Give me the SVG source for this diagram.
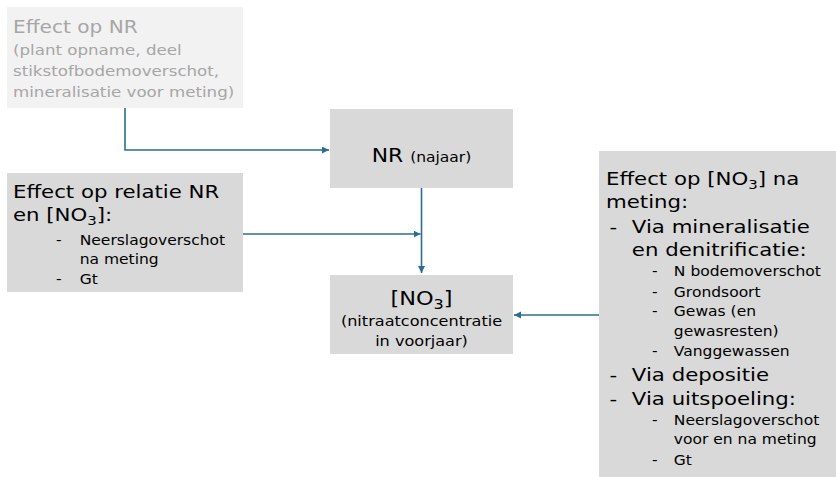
<svg xmlns="http://www.w3.org/2000/svg" width="836" height="477" viewBox="0 0 836 477">
<style>
text{font-family:"DejaVu Sans","Verdana",sans-serif;fill:#000}
.box{fill:#d9d9d9}
.light{fill:#f2f2f2}
.gray{fill:#a6a6a6}
.t{font-size:18.5px}
.s{font-size:13.5px}
.c{text-anchor:middle}
.conn{fill:none;stroke:#2c6e91;stroke-width:1.6}
</style>
<defs>
<marker id="ah" markerUnits="userSpaceOnUse" markerWidth="8" markerHeight="8" refX="7" refY="3.5" orient="auto">
<path d="M0,0 L7,3.5 L0,7 z" fill="#2c6e91"/>
</marker>
</defs>

<g id="effect-nr">
<rect class="light" x="7" y="7" width="236" height="101"/>
<g transform="translate(13,0) scale(1.15,1)">
<text class="gray" x="0" y="33" font-size="17.5">Effect op NR</text>
<text class="gray" x="0" y="55" font-size="14.5">(plant opname, deel</text>
<text class="gray" x="0" y="76" font-size="14.5">stikstofbodemoverschot,</text>
<text class="gray" x="0" y="97" font-size="14.5">mineralisatie voor meting)</text>
</g>
</g>

<g id="effect-relatie">
<rect class="box" x="7" y="173" width="236" height="119"/>
<g transform="translate(13,0) scale(1.15,1)">
<text class="t" x="0" y="198">Effect op relatie NR</text>
<text class="t" x="0" y="221">en [NO<tspan font-size="13" dy="4">3</tspan><tspan dy="-4">]:</tspan></text>
<text class="s" x="37.5" y="245">-</text>
<text class="s" x="58" y="245">Neerslagoverschot</text>
<text class="s" x="58" y="264">na meting</text>
<text class="s" x="37.5" y="284">-</text>
<text class="s" x="58" y="284">Gt</text>
</g>
</g>

<g id="nr">
<rect class="box" x="330" y="109" width="183" height="79"/>
<g transform="translate(421.5,0) scale(1.15,1)">
<text class="c" x="0" y="162"><tspan font-size="19">NR </tspan><tspan font-size="13.5">(najaar)</tspan></text>
</g>
</g>

<g id="no3">
<rect class="box" x="330" y="275" width="183" height="79"/>
<g transform="translate(421.5,0) scale(1.15,1)">
<text class="c" x="0" y="305" font-size="19.5">[NO<tspan font-size="14" dy="4">3</tspan><tspan dy="-4">]</tspan></text>
<text class="c" x="0" y="326" font-size="14">(nitraatconcentratie</text>
<text class="c" x="0" y="346" font-size="14">in voorjaar)</text>
</g>
</g>

<g id="effect-no3">
<rect class="box" x="599" y="151" width="237" height="326"/>
<g transform="translate(606,0) scale(1.15,1)">
<text class="t" x="0" y="185">Effect op [NO<tspan font-size="13" dy="4">3</tspan><tspan dy="-4">] na</tspan></text>
<text class="t" x="0" y="208">meting:</text>
<text class="t" x="3" y="233">-</text>
<text class="t" x="22.5" y="233">Via mineralisatie</text>
<text class="t" x="22.5" y="256">en denitrificatie:</text>
<text class="s" x="40" y="276">-</text>
<text class="s" x="59" y="276">N bodemoverschot</text>
<text class="s" x="40" y="297">-</text>
<text class="s" x="59" y="297">Grondsoort</text>
<text class="s" x="40" y="316">-</text>
<text class="s" x="59" y="316">Gewas (en</text>
<text class="s" x="59" y="336">gewasresten)</text>
<text class="s" x="40" y="356">-</text>
<text class="s" x="59" y="356">Vanggewassen</text>
<text class="t" x="3" y="381">-</text>
<text class="t" x="22.5" y="381">Via depositie</text>
<text class="t" x="3" y="405">-</text>
<text class="t" x="22.5" y="405">Via uitspoeling:</text>
<text class="s" x="40" y="425">-</text>
<text class="s" x="59" y="425">Neerslagoverschot</text>
<text class="s" x="59" y="444">voor en na meting</text>
<text class="s" x="40" y="465">-</text>
<text class="s" x="59" y="465">Gt</text>
</g>
</g>

<g id="connectors">
<path class="conn" d="M125,108 V150 H329" marker-end="url(#ah)"/>
<path class="conn" d="M421.5,188 V273" marker-end="url(#ah)"/>
<path class="conn" d="M243,234 H420.5" marker-end="url(#ah)"/>
<path class="conn" d="M599,315 H514" marker-end="url(#ah)"/>
</g>
</svg>
